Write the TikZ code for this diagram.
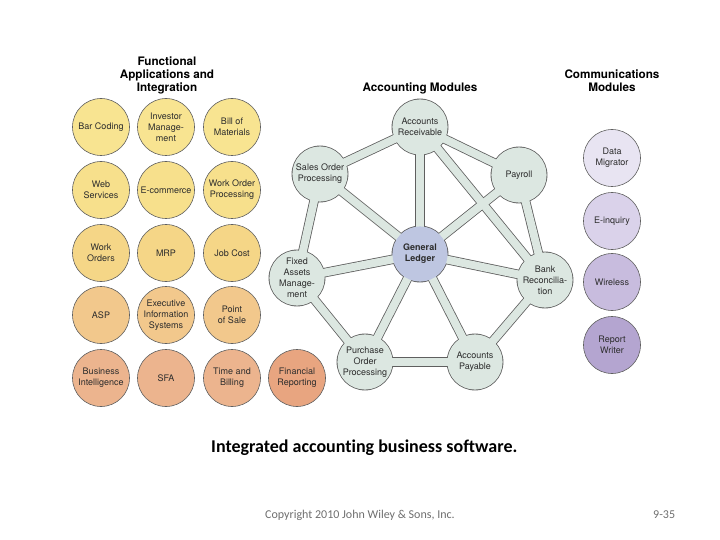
\documentclass[tikz,border=0pt]{standalone}
\usepackage{fontspec}
\setmainfont{TeX Gyre Heros}
\newfontfamily\capfont[Ligatures=NoCommon]{Carlito}
\definecolor{rowa}{RGB}{248,228,145}
\definecolor{rowb}{RGB}{247,224,140}
\definecolor{rowc}{RGB}{245,214,135}
\definecolor{rowd}{RGB}{242,200,140}
\definecolor{rowe}{RGB}{236,180,142}
\definecolor{finc}{RGB}{232,165,128}
\definecolor{accfill}{RGB}{220,231,225}
\definecolor{glfill}{RGB}{190,198,225}
\definecolor{cma}{RGB}{232,228,242}
\definecolor{cmb}{RGB}{218,210,234}
\definecolor{cmc}{RGB}{200,188,222}
\definecolor{cmd}{RGB}{180,165,208}
\definecolor{outc}{RGB}{95,95,95}
\definecolor{txt}{RGB}{45,45,45}
\definecolor{grayt}{RGB}{110,110,110}
\pgfdeclarelayer{outl}
\pgfdeclarelayer{inl}
\pgfsetlayers{outl,inl,main}
\tikzset{
  cbase/.style={circle, minimum size=57pt, inner sep=0pt, align=center,
    font=\fontsize{9}{11}\selectfont, text=txt},
  gcirc/.style={cbase, draw=outc, line width=0.6pt},
  acc/.style={cbase, minimum size=56pt},
  ttl/.style={align=center, font=\bfseries\fontsize{11.7}{13}\selectfont, text=black},
  bandout/.style={line width=9.5pt, draw=outc},
  bandin/.style={line width=7.9pt, draw=accfill},
}
\begin{document}
\begin{tikzpicture}[x=1pt,y=-1pt]
\useasboundingbox (0,0) rectangle (720,540);
% titles
\node[ttl] (t1) at (167,75) {Functional\\Applications and\\Integration};
\node[ttl] (t2) at (420,88) {Accounting Modules};
\node[ttl] (t3) at (612,81) {Communications\\Modules};
% left grid
\node[gcirc, fill=rowa] (barc) at (101,127) {Bar Coding};
\node[gcirc, fill=rowa] (inv)  at (166,127) {Investor\\Manage-\\ment};
\node[gcirc, fill=rowa] (bill) at (232,127) {Bill of\\Materials};
\node[gcirc, fill=rowb] (web)  at (101,190) {Web\\Services};
\node[gcirc, fill=rowb] (ecom) at (166,190) {E-commerce};
\node[gcirc, fill=rowb] (wop)  at (232,190) {Work Order\\Processing};
\node[gcirc, fill=rowc] (wo)   at (101,253) {Work\\Orders};
\node[gcirc, fill=rowc] (mrp)  at (166,253) {MRP};
\node[gcirc, fill=rowc] (job)  at (232,253) {Job Cost};
\node[gcirc, fill=rowd] (asp)  at (101,315) {ASP};
\node[gcirc, fill=rowd] (eis)  at (166,315) {Executive\\Information\\Systems};
\node[gcirc, fill=rowd] (pos)  at (232,315) {Point\\of Sale};
\node[gcirc, fill=rowe] (bi)   at (101,378) {Business\\Intelligence};
\node[gcirc, fill=rowe] (sfa)  at (166,378) {SFA};
\node[gcirc, fill=rowe] (tab)  at (232,378) {Time and\\Billing};
\node[gcirc, fill=finc] (fin)  at (297,378) {Financial\\Reporting};
% accounting wheel
\node[acc] (AR) at (420,127) {Accounts\\Receivable};
\node[acc] (SO) at (320,174) {Sales Order\\Processing};
\node[acc] (PR) at (519,175) {Payroll};
\node[acc, font=\bfseries\fontsize{9}{11}\selectfont] (GL) at (420,254) {General\\Ledger};
\node[acc] (FA) at (297,278) {Fixed\\Assets\\Manage-\\ment};
\node[acc] (BR) at (545,280) {Bank\\Reconcilia-\\tion};
\node[acc] (PO) at (365,362) {Purchase\\Order\\Processing};
\node[acc] (AP) at (475,362) {Accounts\\Payable};
\begin{pgfonlayer}{outl}
  \foreach \a/\b in {AR/SO,AR/PR,PR/BR,BR/AP,AP/PO,PO/FA,FA/SO,GL/AR,GL/SO,GL/PR,GL/FA,GL/BR,GL/PO,GL/AP,AR/BR}
    \draw[bandout] (\a.center) -- (\b.center);
  \foreach \n in {AR,SO,PR,GL,FA,BR,PO,AP}
    \fill[outc] (\n.center) circle (28.4pt);
\end{pgfonlayer}
\begin{pgfonlayer}{inl}
  \foreach \a/\b in {AR/SO,AR/PR,PR/BR,BR/AP,AP/PO,PO/FA,FA/SO,GL/AR,GL/SO,GL/PR,GL/FA,GL/BR,GL/PO,GL/AP,AR/BR}
    \draw[bandin] (\a.center) -- (\b.center);
  \foreach \n in {AR,SO,PR,FA,BR,PO,AP}
    \fill[accfill] (\n.center) circle (27.6pt);
  \fill[glfill] (GL.center) circle (27.6pt);
\end{pgfonlayer}
% communications
\node[gcirc, fill=cma] (dm) at (612,158) {Data\\Migrator};
\node[gcirc, fill=cmb] (ei) at (612,221) {E-inquiry};
\node[gcirc, fill=cmc] (wl) at (612,282) {Wireless};
\node[gcirc, fill=cmd] (rw) at (612,345) {Report\\Writer};
% captions
\node[anchor=west, inner sep=0pt, font=\capfont\bfseries\fontsize{18}{21}\selectfont] (cap) at (211,448) {Integrated accounting business software.};
\node[anchor=west, inner sep=0pt, text=grayt, font=\capfont\fontsize{12}{14}\selectfont] (copy) at (265,515) {Copyright 2010 John Wiley \& Sons, Inc.};
\node[anchor=west, inner sep=0pt, text=grayt, font=\capfont\fontsize{12}{14}\selectfont] (pg) at (653,515) {9-35};
\end{tikzpicture}
\end{document}
